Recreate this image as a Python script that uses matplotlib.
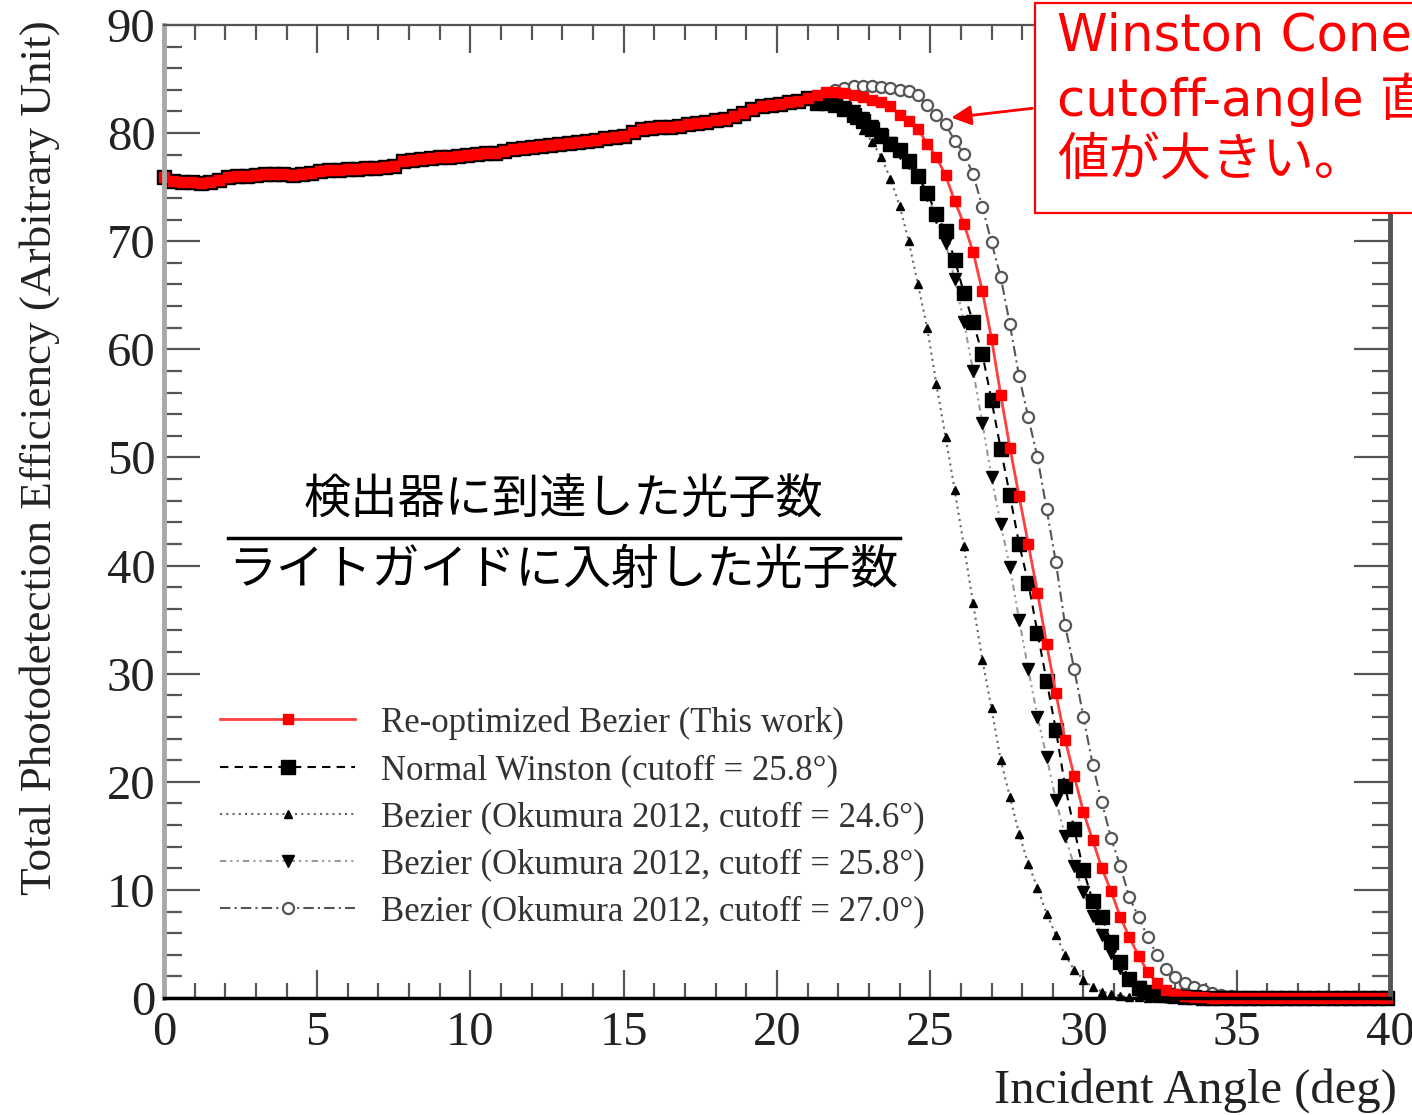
import numpy as np
import matplotlib
matplotlib.use("Agg")
from matplotlib import pyplot as plt
from matplotlib.patches import Rectangle
from matplotlib.ticker import MultipleLocator

# incident angle scan, 0.3 deg step (0 ... 39.9)
angle = np.arange(134) * 0.3

# all five cones agree below ~21 deg
plateau = [75.9, 75.6, 75.5, 75.5, 75.4, 75.5, 75.7, 75.9, 76.0, 76.0,
           76.1, 76.2, 76.2, 76.2, 76.1, 76.2, 76.3, 76.5, 76.6, 76.6,
           76.7, 76.7, 76.8, 76.8, 76.9, 77.0, 77.4, 77.5, 77.6, 77.7,
           77.8, 77.8, 77.9, 78.0, 78.1, 78.2, 78.2, 78.3, 78.5, 78.6,
           78.7, 78.8, 78.9, 79.0, 79.1, 79.2, 79.3, 79.4, 79.5, 79.6,
           79.7, 80.1, 80.4, 80.5, 80.6, 80.6, 80.7, 80.8, 80.9, 81.0,
           81.2, 81.3, 81.6, 81.9, 82.2, 82.5, 82.6, 82.7, 82.9, 83.0,
           83.2]

# 21.3 ... 39.9 deg
tail_reopt = [83.5, 83.8, 83.8, 83.7, 83.5, 83.3, 83.1, 82.9, 82.5, 81.7,
              81.1, 80.4, 79.0, 77.8, 76.1, 73.7, 71.6, 69.0, 65.4, 61.0,
              55.8, 50.9, 46.4, 42.0, 37.5, 32.7, 28.2, 23.9, 20.5, 17.2,
              14.6, 12.0, 9.9, 7.5, 5.6, 3.9, 2.4, 1.4, 0.7, 0.4,
              0.2, 0.1, 0.05, 0, 0, 0, 0, 0, 0, 0,
              0, 0, 0, 0, 0, 0, 0, 0, 0, 0,
              0, 0, 0]
tail_winston = [82.8, 82.8, 82.6, 82.2, 81.7, 81.1, 80.4, 79.7, 79.0, 78.4,
                77.4, 76.0, 74.5, 72.5, 70.9, 68.3, 65.2, 62.5, 59.6, 55.3,
                50.8, 46.5, 42.0, 38.4, 33.8, 29.3, 24.8, 19.6, 15.6, 11.8,
                9.0, 7.5, 5.2, 3.3, 1.8, 0.9, 0.6, 0.4, 0.25, 0.15,
                0.1, 0.05, 0, 0, 0, 0, 0, 0, 0, 0,
                0, 0, 0, 0, 0, 0, 0, 0, 0, 0,
                0, 0, 0]
tail_b246 = [82.6, 82.8, 82.6, 82.0, 81.2, 80.3, 79.2, 77.8, 75.8, 73.3,
             70.0, 66.0, 62.0, 56.8, 51.9, 47.0, 41.8, 36.5, 31.3, 26.8,
             22.0, 18.6, 15.2, 12.4, 10.2, 7.8, 5.8, 4.0, 2.6, 1.7,
             1.0, 0.6, 0.4, 0.2, 0.1, 0.05, 0, 0, 0, 0,
             0, 0, 0, 0, 0, 0, 0, 0, 0, 0,
             0, 0, 0, 0, 0, 0, 0, 0, 0, 0,
             0, 0, 0]
tail_b258 = [82.8, 82.8, 82.7, 82.4, 82.0, 81.4, 80.7, 79.9, 79.1, 78.2,
             77.2, 76.0, 74.3, 72.2, 69.8, 66.5, 62.5, 58.0, 53.2, 48.2,
             43.8, 39.9, 35.0, 30.4, 26.0, 22.3, 18.3, 15.0, 12.2, 9.8,
             7.6, 5.8, 4.2, 2.8, 1.8, 1.0, 0.5, 0.25, 0.1, 0.05,
             0, 0, 0, 0, 0, 0, 0, 0, 0, 0,
             0, 0, 0, 0, 0, 0, 0, 0, 0, 0,
             0, 0, 0]
tail_b270 = [83.2, 83.6, 84.0, 84.2, 84.4, 84.4, 84.4, 84.3, 84.2, 84.0,
             83.9, 83.5, 82.6, 81.7, 80.8, 79.3, 78.1, 76.2, 73.2, 69.9,
             66.7, 62.3, 57.5, 53.7, 50.0, 45.2, 40.3, 34.5, 30.4, 26.0,
             21.6, 18.1, 14.8, 12.2, 9.3, 7.5, 5.6, 4.0, 2.7, 1.9,
             1.4, 1.0, 0.7, 0.5, 0.3, 0.2, 0.1, 0.05, 0, 0,
             0, 0, 0, 0, 0, 0, 0, 0, 0, 0,
             0, 0, 0]

labels = ['Re-optimized Bezier (This work)',
          'Normal Winston (cutoff = 25.8°)',
          'Bezier (Okumura 2012, cutoff = 24.6°)',
          'Bezier (Okumura 2012, cutoff = 25.8°)',
          'Bezier (Okumura 2012, cutoff = 27.0°)']

plt.rcParams['font.family'] = ['Liberation Serif', 'DejaVu Serif']

fig = plt.figure(figsize=(14.12, 11.15), dpi=100)
ax = fig.add_axes([0.1161, 0.1049, 0.8683, 0.8727])

# draw back to front, red on top
l5, = ax.plot(angle, plateau + tail_b270, ls=(0, (5, 2, 1, 2)), color='#555555', lw=1.5,
              marker='o', ms=8, mfc='white', mec='#555555', mew=1.6, clip_on=False)
l4, = ax.plot(angle, plateau + tail_b258, ls=(0, (3, 2, 1, 2, 1, 2)), color='#999999', lw=1.5,
              marker='v', ms=8, mfc='black', mec='black', clip_on=False)
l3, = ax.plot(angle, plateau + tail_b246, ls=(0, (1, 2)), color='#666666', lw=1.5,
              marker='^', ms=5.5, mfc='black', mec='black', clip_on=False)
l2, = ax.plot(angle, plateau + tail_winston, ls=(0, (4, 3)), color='black', lw=1.5,
              marker='s', ms=10, mfc='black', mec='black', clip_on=False)
l1, = ax.plot(angle, plateau + tail_reopt, ls='-', color='#ff4040', lw=2,
              marker='s', ms=7.5, mfc='red', mec='red', clip_on=False)

ax.set_xlim(0, 40)
ax.set_ylim(0, 90)

ax.xaxis.set_major_locator(MultipleLocator(5))
ax.xaxis.set_minor_locator(MultipleLocator(1))
ax.yaxis.set_major_locator(MultipleLocator(10))
ax.yaxis.set_minor_locator(MultipleLocator(2))
ax.tick_params(which='both', direction='in', top=True, right=True, color='#555555', width=1.6,
               labelsize=35, labelcolor='#222222')
ax.tick_params(axis='x', which='major', length=20, pad=9)
ax.tick_params(axis='x', which='minor', length=11)
ax.tick_params(axis='y', which='major', length=26, pad=6)
ax.tick_params(axis='y', which='minor', length=13)

ax.spines['left'].set_color('#a8a8a8')
ax.spines['left'].set_linewidth(3.5)
ax.spines['bottom'].set_color('black')
ax.spines['bottom'].set_linewidth(2.5)
ax.spines['right'].set_color('#555555')
ax.spines['right'].set_linewidth(3.5)
ax.spines['top'].set_color('#555555')
ax.spines['top'].set_linewidth(1.6)

ax.set_xlabel('Incident Angle (deg)', fontsize=35, color='#222222', loc='right')
ax.xaxis.set_label_coords(1.006, -0.072)
ax.set_ylabel('Total Photodetection Efficiency (Arbitrary Unit)', fontsize=32.5, color='#222222',
              loc='top')
ax.yaxis.set_label_coords(-0.085, 1.005)

leg = ax.legend([l1, l2, l3, l4, l5], labels, loc='upper left', bbox_to_anchor=(0.0457, 0.300),
                frameon=False, fontsize=25, numpoints=1, handlelength=3.9, handletextpad=0.75,
                labelspacing=0.41, borderpad=0, borderaxespad=0)
for t in leg.get_texts():
    t.set_color('#333333')

# fraction text
jp = ['Noto Sans CJK JP', 'DejaVu Sans']
ax.text(0.326, 0.511, '検出器に到達した光子数', family=jp, fontsize=34, ha='center', va='center',
        transform=ax.transAxes)
ax.plot([0.052, 0.600], [0.473, 0.473], color='black', lw=2.5, transform=ax.transAxes, clip_on=False)
ax.text(0.326, 0.440, 'ライトガイドに入射した光子数', family=jp, fontsize=34.5, ha='center', va='center',
        transform=ax.transAxes)

# red note box in the top right corner
W, H = 1412.0, 1115.0
box = Rectangle((1035 / W, 1 - 213 / H), 0.4, 210 / H, transform=fig.transFigure,
                facecolor='white', edgecolor='red', lw=1.6, zorder=5)
fig.add_artist(box)
note = ['DejaVu Sans', 'Noto Sans CJK JP']
fig.text(1057 / W, 1 - 37 / H, 'Winston Coneの方が', family=note, fontsize=37, color='red',
         va='center', ha='left', zorder=6)
fig.text(1057 / W, 1 - 100 / H, 'cutoff-angle 直後の', family=note, fontsize=37, color='red',
         va='center', ha='left', zorder=6)
fig.text(1057 / W, 1 - 162 / H, '値が大きい。', family=note, fontsize=37, color='red',
         va='center', ha='left', zorder=6)
ax.annotate('', xy=(25.6, 81.4), xycoords='data', xytext=(1035 / W, 1 - 108 / H),
            textcoords='figure fraction',
            arrowprops=dict(arrowstyle='-|>', color='red', lw=2, mutation_scale=30),
            annotation_clip=False, zorder=6)

fig.savefig('out.png', dpi=100)
